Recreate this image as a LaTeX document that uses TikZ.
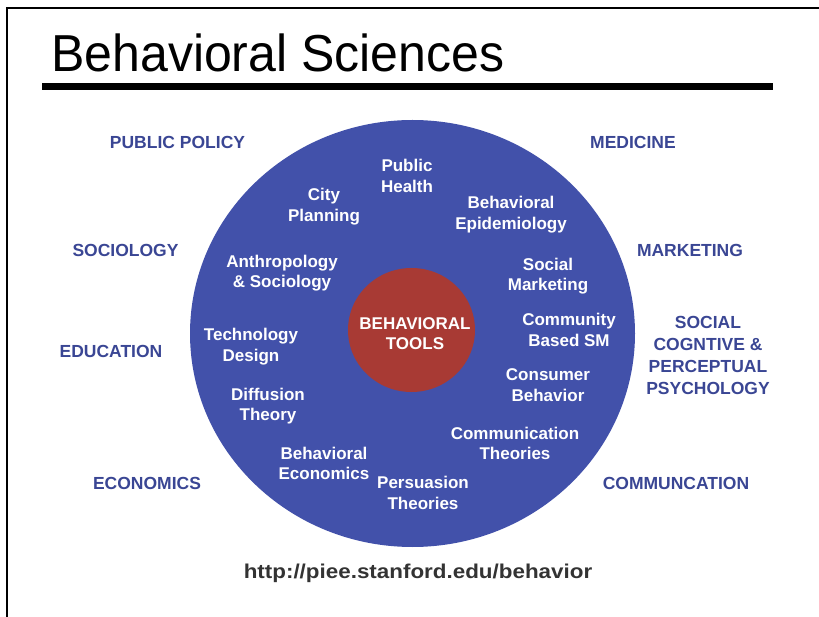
\documentclass[tikz,border=0pt]{standalone}
\usepackage{fontspec}
\setmainfont{Liberation Sans}
\newfontfamily\titlefont[FakeStretch=0.962]{Liberation Sans}
\newfontfamily\urlfont[FakeStretch=1.12]{Liberation Sans}
\begin{document}
\begin{tikzpicture}[x=1pt,y=-1pt,
  inner/.style={text=white,font=\fontsize{17}{20.5}\selectfont\bfseries,align=center,inner sep=0pt},
  field/.style={text=fieldblue,font=\fontsize{17.5}{22}\selectfont\bfseries,align=center,inner sep=0pt}]
\definecolor{discblue}{RGB}{66,81,170}
\definecolor{fieldblue}{RGB}{58,70,148}
\definecolor{toolred}{RGB}{168,58,52}
\definecolor{urlgray}{RGB}{51,51,51}
\useasboundingbox (0,0) rectangle (819,617);
% slide frame
\draw[line width=2pt] (7,617) -- (7,8) -- (819,8);
% title and rule
\node[anchor=base west,inner sep=0pt,font=\titlefont\fontsize{52}{60}\selectfont] (title) at (51,72) {Behavioral Sciences};
\fill (42,83) rectangle (773,90);
% discs
\fill[discblue] (412.5,333.5) ellipse [x radius=222.5, y radius=213.5];
\fill[toolred] (411.5,330) ellipse [x radius=63.5, y radius=62];
\node[inner] (tools) at (415,333.5) {BEHAVIORAL\\TOOLS};
% behavioral tools around the centre
\node[inner] (pubhealth) at (407,176) {Public\\Health};
\node[inner] (city) at (324,206.5) {City\\Planning};
\node[inner] (epid) at (511,214.5) {Behavioral\\Epidemiology};
\node[inner] (anthro) at (282,273) {Anthropology\\\&\ Sociology};
\node[inner] (socmkt) at (548,276) {Social\\Marketing};
\node[inner] (cbsm) at (569,330) {Community\\Based SM};
\node[inner] (tech) at (251,346.5) {Technology\\Design};
\node[inner] (consumer) at (548,385) {Consumer\\Behavior};
\node[inner] (diffusion) at (268,406) {Diffusion\\Theory};
\node[inner] (commth) at (515,443.5) {Communication\\Theories};
\node[inner] (beheco) at (324,463.5) {Behavioral\\Economics};
\node[inner] (persuasion) at (423,493) {Persuasion\\Theories};
% disciplines outside the disc
\node[field] (policy) at (177.5,142) {PUBLIC POLICY};
\node[field] (medicine) at (633,142) {MEDICINE};
\node[field] (sociology) at (125.5,250) {SOCIOLOGY};
\node[field] (marketing) at (690,250) {MARKETING};
\node[field] (education) at (111,351) {EDUCATION};
\node[field] (psych) at (708,355) {SOCIAL\\COGNTIVE \&\\PERCEPTUAL\\PSYCHOLOGY};
\node[field] (economics) at (147,483) {ECONOMICS};
\node[field] (communication) at (676,483) {COMMUNCATION};
% source
\node[text=urlgray,font=\urlfont\fontsize{20}{24}\selectfont\bfseries,inner sep=0pt] (url) at (418,573) {http://piee.stanford.edu/behavior};
\end{tikzpicture}
\end{document}
